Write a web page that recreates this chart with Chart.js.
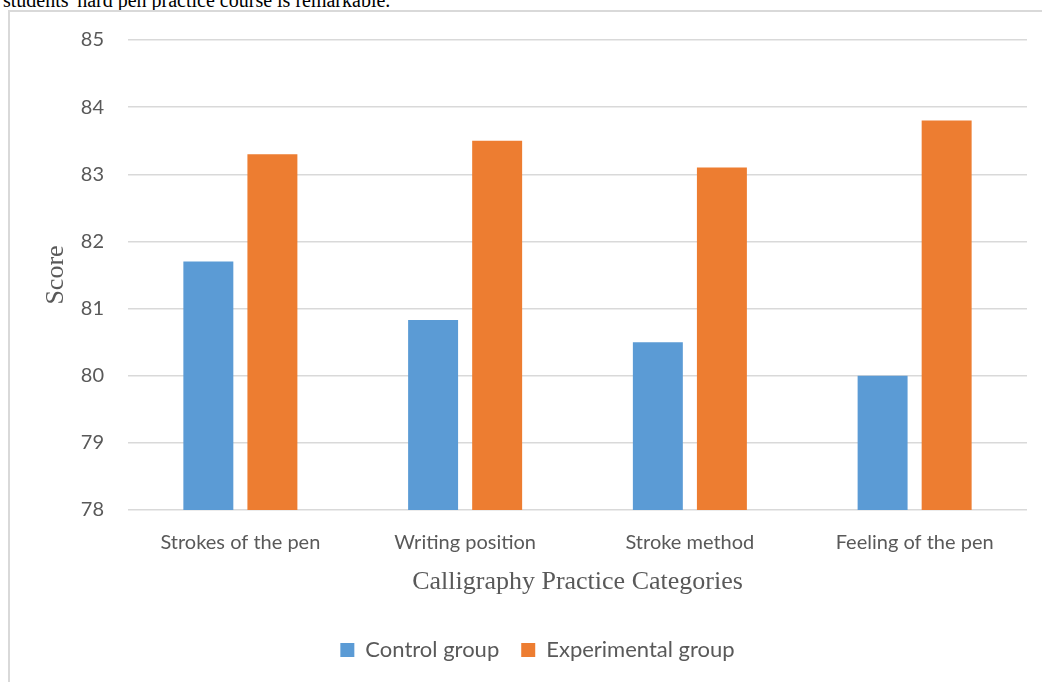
<!DOCTYPE html>
<html>
<head>
<meta charset="utf-8">
<script src="https://cdn.jsdelivr.net/npm/chart.js@4.4.0/dist/chart.umd.min.js"></script>
<style>
  html, body { margin: 0; padding: 0; width: 1042px; height: 682px; overflow: hidden; background: #fff; }
  #topline { position: absolute; left: 3px; top: -11px; font-family: "Liberation Serif", "Times New Roman", serif; font-size: 20px; color: #000; white-space: nowrap; }
  #frame { position: absolute; left: 8px; top: 10px; width: 1070px; height: 700px; border-left: 2px solid #d9d9d9; border-top: 2px solid #d9d9d9; }
  #c { position: absolute; left: 10px; top: 12px; }
</style>
</head>
<body>
<div id="topline">students' hard pen practice course is remarkable.</div>
<div id="frame"></div>
<canvas id="c" width="1055" height="659"></canvas>
<script>
const categories = ["Strokes of the pen", "Writing position", "Stroke method", "Feeling of the pen"];
const controlGroup = [81.7, 80.83, 80.5, 80.0];
const experimentalGroup = [83.3, 83.5, 83.1, 83.8];
const seriesNames = ["Control group", "Experimental group"];
const yMin = 78, yMax = 85, yStep = 1;
const xTitle = "Calligraphy Practice Categories";
const yTitle = "Score";

const tickFont = { family: "Lato, 'Open Sans', sans-serif", size: 20 };
const legendFont = { family: "Lato, 'Open Sans', sans-serif", size: 22 };
const serifFont = { family: "'Liberation Serif', 'Times New Roman', serif", size: 26 };

new Chart(document.getElementById('c'), {
  type: 'bar',
  data: {
    labels: categories,
    datasets: [
      { label: seriesNames[0], data: controlGroup, backgroundColor: '#5B9BD5', borderWidth: 0,
        categoryPercentage: 0.57, barPercentage: 0.78 },
      { label: seriesNames[1], data: experimentalGroup, backgroundColor: '#ED7D31', borderWidth: 0,
        categoryPercentage: 0.57, barPercentage: 0.78 }
    ]
  },
  options: {
    responsive: false,
    animation: false,
    devicePixelRatio: 1,
    layout: { padding: { left: 38, right: 38, top: 28, bottom: 0 } },
    plugins: {
      legend: {
        position: 'bottom',
        labels: { font: legendFont, color: '#595959', boxWidth: 14, boxHeight: 14, padding: 22 }
      },
      tooltip: { enabled: false },
      title: { display: false }
    },
    scales: {
      x: {
        grid: { display: false, drawTicks: false },
        border: { display: false },
        ticks: { font: tickFont, color: '#595959', padding: 21 },
        title: { display: true, text: xTitle, font: serifFont, color: '#595959', padding: { top: 0, bottom: 19 } },
        afterFit: (s) => { s.height = 107; s.paddingLeft = 0; s.paddingRight = 0; }
      },
      y: {
        min: yMin, max: yMax,
        grid: { color: '#d9d9d9', lineWidth: 1.5, drawTicks: false },
        border: { display: false },
        ticks: { stepSize: yStep, font: tickFont, color: '#595959', padding: 24 },
        title: { display: true, text: yTitle, font: serifFont, color: '#595959', padding: { top: -7, bottom: 0 } },
        afterFit: (s) => { s.width = 80; s.paddingTop = 0; s.paddingBottom = 0; }
      }
    }
  }
});
</script>
</body>
</html>
